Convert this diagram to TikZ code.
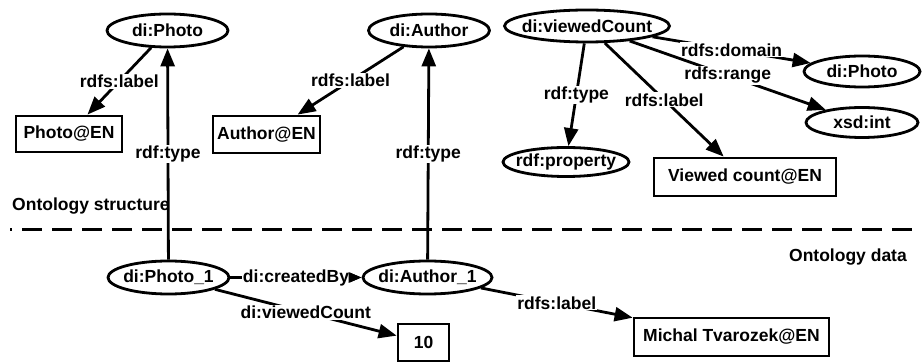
\documentclass[tikz,border=0pt]{standalone}
\usepackage{fontspec}
\setmainfont{Liberation Sans}
\usetikzlibrary{arrows.meta,shapes.geometric}
\begin{document}
\begin{tikzpicture}[x=1pt,y=-1pt,
  font=\fontsize{17.5}{20}\selectfont\bfseries,
  lw/.style={line width=2.8pt},
  ell/.style 2 args={ellipse, draw, lw, inner xsep=-15pt, inner ysep=0pt, minimum width=#1, minimum height=#2},
  box/.style 2 args={rectangle, draw, lw, inner sep=0pt, minimum width=#1, minimum height=#2},
  conn/.style={lw, -{Triangle[length=18pt,width=14pt]}},
  smallconn/.style={lw, -{Triangle[length=13pt,width=10pt]}},
  lbl/.style={fill=white, inner sep=1pt},
  note/.style={inner sep=0pt}
]
\useasboundingbox (0,0) rectangle (922,363);

% ontology structure
\node[ell={121pt}{33pt}] (photo) at (167.5,30.5) {di:Photo};
\node[ell={121pt}{33pt}] (author) at (429,30.5) {di:Author};
\node[box={106pt}{36pt}] (photoEN) at (69,134) {Photo@EN};
\node[box={107pt}{37pt}] (authorEN) at (266.5,134.5) {Author@EN};

\node[ell={165pt}{32pt}] (vc) at (587,26) {di:viewedCount};
\node[ell={116pt}{31pt}] (photo2) at (862,71.5) {di:Photo};
\node[ell={112pt}{30pt}] (xsd) at (862,122.5) {xsd:int};
\node[ell={126pt}{29pt}] (prop) at (566,162) {rdf:property};
\node[box={182pt}{38pt}] (vcEN) at (745,177) {Viewed count@EN};

% ontology data
\node[ell={121pt}{33pt}] (photo1) at (168.5,277.5) {di:Photo\_1};
\node[ell={129pt}{33pt}] (author1) at (427.5,277.5) {di:Author\_1};
\node[box={51pt}{37pt}] (ten) at (423.5,342.5) {10};
\node[box={195pt}{38pt}] (mt) at (731.5,337) {Michal Tvarozek@EN};

% section labels and divider
\node[note, anchor=west] (os) at (12,206) {Ontology structure};
\node[note, anchor=east] (od) at (907,257) {Ontology data};
\coordinate (dl) at (10,230);
\coordinate (dr) at (922,230);
\draw[line width=3pt, dash pattern=on 20pt off 10pt, dash phase=18pt] (dl) -- (dr);

% connectors
\draw[conn] (photo) -- node[lbl]{rdfs:label} (photoEN);
\draw[conn] (author) -- node[lbl]{rdfs:label} (authorEN);
\draw[conn] (photo1) -- node[lbl]{rdf:type} (photo);
\draw[conn] (author1) -- node[lbl]{rdf:type} (author);

\draw[conn] (vc) -- node[lbl]{rdf:type} (prop);
\draw[conn] (vc) -- node[lbl]{rdfs:label} (vcEN);
\draw[conn] (vc) -- node[lbl]{rdfs:domain} (photo2);
\draw[conn] (vc) -- node[lbl]{rdfs:range} (xsd);

\draw[smallconn] (photo1) -- node[lbl]{di:createdBy} (author1);
\draw[smallconn, shorten <=119pt] (photo1) -- (author1);
\draw[conn] (photo1) -- node[lbl]{di:viewedCount} (ten);
\draw[conn] (author1) -- node[lbl]{rdfs:label} (mt);
\end{tikzpicture}
\end{document}
